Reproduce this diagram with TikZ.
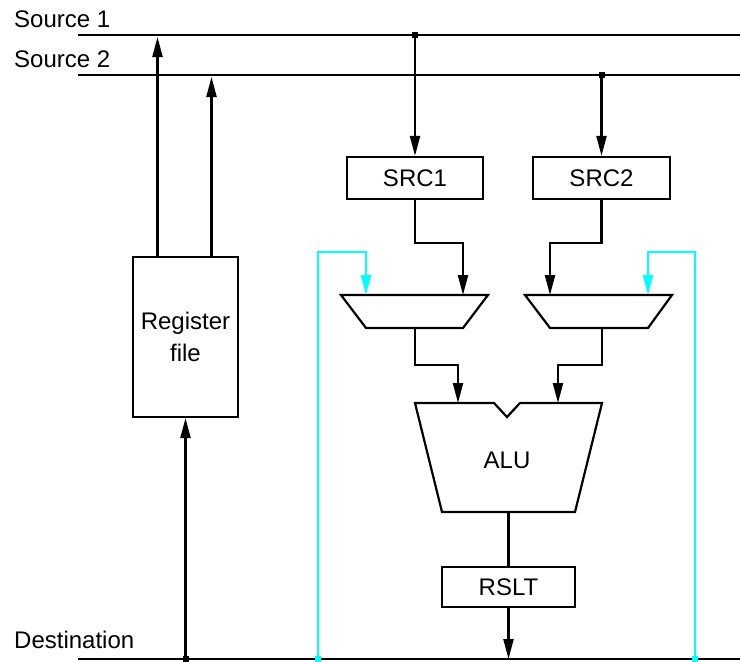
\documentclass[tikz,border=0pt]{standalone}
\usepackage{fontspec}
\setmainfont{Liberation Sans}
\usetikzlibrary{arrows.meta}
\definecolor{fbcyan}{RGB}{0,255,255}
\tikzset{
  wire/.style={line width=2.2pt, line join=miter},
  awire/.style={wire, -{Triangle[length=20pt,width=10pt]}},
  cwire/.style={line width=2.2pt, color=fbcyan},
  acwire/.style={cwire, -{Triangle[length=20pt,width=10pt]}},
  boxnode/.style={draw, line width=2.2pt, rectangle, inner sep=0pt, font=\fontsize{24}{32}\selectfont},
  lbl/.style={anchor=base west, inner sep=0pt, font=\fontsize{24}{28}\selectfont},
  jdot/.style={fill=black, inner sep=0pt, minimum size=6pt, rectangle},
  cdot/.style={fill=fbcyan, inner sep=0pt, minimum size=6pt, rectangle}
}
\begin{document}
\begin{tikzpicture}[x=1pt,y=-1pt]
\useasboundingbox (0,0) rectangle (740,662);
% buses
\coordinate (s1L) at (78,35); \coordinate (s1R) at (740,35);
\coordinate (s2L) at (78,75); \coordinate (s2R) at (740,75);
\coordinate (dL) at (78,659); \coordinate (dR) at (740,659);
\draw[wire] (s1L) -- (s1R);
\draw[wire] (s2L) -- (s2R);
\draw[wire] (dL) -- (dR);
\node[lbl] (ls1) at (14,27) {Source 1};
\node[lbl] (ls2) at (14,67) {Source 2};
\node[lbl] (ld) at (14,648) {Destination};
% register file
\node[boxnode, minimum width=105pt, minimum height=160pt, align=center] (rf) at (185.5,337) {Register\\file};
\coordinate (rf1) at (157.5,257); \coordinate (rf1t) at (157.5,37);
\coordinate (rf2) at (211.5,257); \coordinate (rf2t) at (211.5,77);
\draw[awire] (rf1) -- (rf1t);
\draw[awire] (rf2) -- (rf2t);
\node[jdot] (dd) at (185.5,659) {};
\draw[awire] (dd.center) -- (rf.south);
% SRC registers
\node[boxnode, minimum width=136pt, minimum height=42pt] (src1) at (415,178) {SRC1};
\node[boxnode, minimum width=137pt, minimum height=42pt] (src2) at (601.5,178) {SRC2};
\node[jdot] (j1) at (415,35) {};
\node[jdot] (j2) at (601.5,75) {};
\draw[awire] (j1.center) -- (src1.north);
\draw[awire] (j2.center) -- (src2.north);
% muxes
\coordinate (m1a) at (341,295); \coordinate (m1b) at (488,295);
\coordinate (m1c) at (463,328); \coordinate (m1d) at (366,328);
\coordinate (m2a) at (525,295); \coordinate (m2b) at (672,295);
\coordinate (m2c) at (648,328); \coordinate (m2d) at (550,328);
\draw[wire] (m1a) -- (m1b) -- (m1c) -- (m1d) -- cycle;
\draw[wire] (m2a) -- (m2b) -- (m2c) -- (m2d) -- cycle;
\coordinate (m1in1) at (463,295); \coordinate (m1in2) at (366,295);
\coordinate (m2in1) at (550,295); \coordinate (m2in2) at (648,295);
\draw[awire] (src1.south) -- (415,243) -| (m1in1);
\draw[awire] (src2.south) -- (601.5,243) -| (m2in1);
% feedback
\node[cdot] (c1) at (318,659) {};
\node[cdot] (c2) at (695,659) {};
\draw[acwire] (c1.center) -- (318,252) -| (m1in2);
\draw[acwire] (c2.center) -- (695,252) -| (m2in2);
% ALU
\coordinate (a1) at (415,403); \coordinate (a2) at (494,403);
\coordinate (a3) at (507,417); \coordinate (a4) at (520,403);
\coordinate (a5) at (602,403); \coordinate (a6) at (575,512);
\coordinate (a7) at (442,512);
\draw[wire] (a1) -- (a2) -- (a3) -- (a4) -- (a5) -- (a6) -- (a7) -- cycle;
\node[font=\fontsize{24}{28}\selectfont] (alu) at (507,460) {ALU};
\coordinate (m1out) at (415,328); \coordinate (m2out) at (602,328);
\coordinate (ain1) at (458,403); \coordinate (ain2) at (558,403);
\draw[awire] (m1out) -- (415,365) -| (ain1);
\draw[awire] (m2out) -- (602,365) -| (ain2);
% result
\node[boxnode, minimum width=133pt, minimum height=40pt] (rslt) at (508.5,587) {RSLT};
\coordinate (aout) at (508.5,512);
\draw[wire] (aout) -- (rslt.north);
\coordinate (dres) at (508.5,659);
\draw[awire] (rslt.south) -- (dres);
\end{tikzpicture}
\end{document}
